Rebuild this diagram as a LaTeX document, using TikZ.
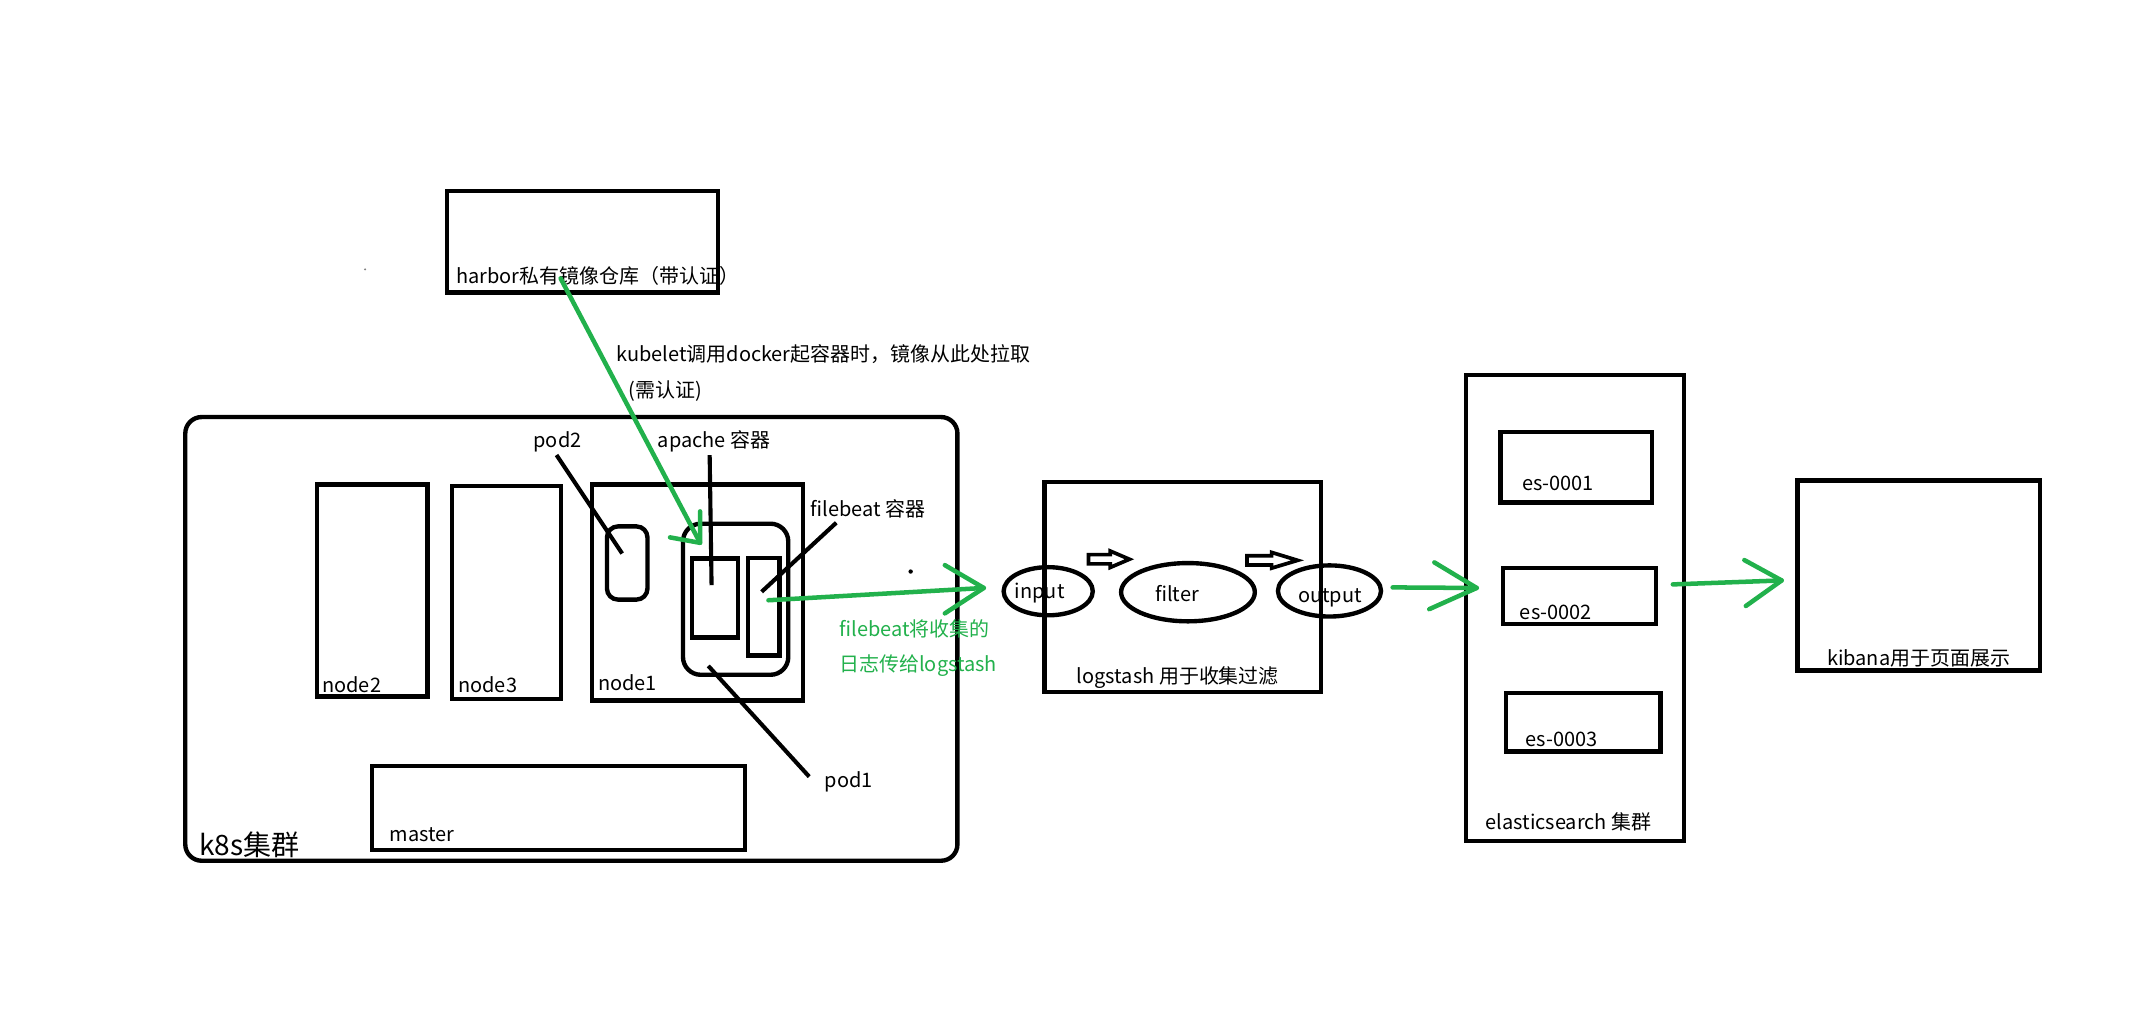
\documentclass[tikz,border=0pt]{standalone}
\usepackage{fontspec}
\setmainfont{Noto Sans CJK SC}
\usetikzlibrary{shapes.geometric,fit}
\definecolor{pgreen}{RGB}{34,177,76}
\begin{document}
\begin{tikzpicture}[x=1pt,y=-1pt,
  box/.style={draw, line width=3.2pt, inner sep=0pt, outer sep=0pt, rectangle},
  oval/.style={draw, line width=3.2pt, ellipse, inner sep=0pt, outer sep=0pt},
  lbl/.style={inner sep=0pt, anchor=base west, font=\fontsize{14.6}{17}\selectfont},
  biglbl/.style={inner sep=0pt, anchor=base west, font=\fontsize{20.5}{24}\selectfont},
  glbl/.style={lbl, text=pgreen},
  lead/.style={line width=3pt},
  garrow/.style={draw=pgreen, line width=3.3pt, line cap=round, line join=round},
  hollow/.style={draw, line width=2.7pt, line join=miter}
]
\fill[white] (0,0) rectangle (1568,740.1);
\useasboundingbox (0,0) rectangle (1568,740.1);

% harbor
\node[box, fit={(326.8,139.7)(525.3,213.8)}] (harbor) {};
\node[lbl] (harborT) at (333.5,207.2) {harbor私有镜像仓库（带认证）};
\fill[gray] (267,197) circle (0.8);

% kubelet text
\node[lbl] (kubeT) at (450.6,264.5) {kubelet调用docker起容器时，镜像从此处拉取};
\node[lbl] (kubeT2) at (459.4,290.6) {(需认证)};

% k8s cluster
\node[box, rounded corners=12pt, fit={(135.5,305)(700.2,629.5)}] (k8s) {};
\node[biglbl] (k8sT) at (145.4,625.5) {k8s集群};

\node[box, fit={(232,354.3)(312.7,509.3)}] (node2) {};
\node[box, fit={(330.5,355.5)(410.5,511)}] (node3) {};
\node[box, fit={(433,354.3)(587.4,512.3)}] (node1) {};
\node[lbl] (node2T) at (235.5,506.7) {node2};
\node[lbl] (node3T) at (335,506.5) {node3};
\node[lbl] (node1T) at (437.3,505) {node1};

\node[box, rounded corners=8pt, fit={(443.9,385)(473.5,438.5)}] (pod2) {};
\node[box, rounded corners=13pt, fit={(499.5,383)(576.5,493.5)}] (pod1) {};
\node[box, fit={(506,408.5)(539.5,466.2)}] (apache) {};
\node[box, fit={(547,408)(570.2,479.5)}] (filebeat) {};

\node[box, fit={(272,560)(545,621.5)}] (master) {};
\node[lbl] (masterT) at (284.8,615.7) {master};

% leader labels
\node[lbl] (pod2T) at (390,327) {pod2};
\node[lbl] (apacheT) at (481,327) {apache 容器};
\node[lbl] (filebeatT) at (592.6,378) {filebeat 容器};
\node[lbl] (pod1T) at (603,576) {pod1};

\coordinate (l1a) at (407,332.8); \coordinate (l1b) at (455,404.8);
\coordinate (l2a) at (519,332.8); \coordinate (l2b) at (520.4,428);
\coordinate (l3a) at (611.6,382.3); \coordinate (l3b) at (557,432.8);
\coordinate (l4a) at (518,487); \coordinate (l4b) at (591.8,568);
\draw[lead] (l1a) -- (l1b);
\draw[lead] (l2a) -- (l2b);
\draw[lead] (l3a) -- (l3b);
\draw[lead] (l4a) -- (l4b);

\fill (666,418) circle (1.6);

% green text
\node[glbl] (g1T) at (613.7,465.7) {filebeat将收集的};
\node[glbl] (g2T) at (613.7,491) {日志传给logstash};

% logstash
\node[box, fit={(763.8,352.5)(966.3,506)}] (logstash) {};
\node[lbl] (logstashT) at (787.4,499.8) {logstash 用于收集过滤};
\node[oval, minimum width=65.2pt, minimum height=35.2pt] (input) at (766.6,432.4) {};
\node[oval, minimum width=97.8pt, minimum height=42.6pt] (filter) at (868.8,433.1) {};
\node[oval, minimum width=75.4pt, minimum height=37.4pt] (output) at (972.3,432.2) {};
\node[lbl] (inputT) at (742,437.6) {input};
\node[lbl] (filterT) at (844.6,440) {filter};
\node[lbl] (outputT) at (949.2,440.6) {output};

\draw[hollow] (796,405.6) -- (812,405.6) -- (812,403) -- (826,409) -- (812,415) -- (812,412.4) -- (796,412.4) -- cycle;
\draw[hollow] (912,406.4) -- (930,406.4) -- (930,404) -- (949,409.8) -- (930,415.5) -- (930,413.2) -- (912,413.2) -- cycle;

% elasticsearch
\node[box, fit={(1072.3,274.1)(1231.5,614.9)}] (es) {};
\node[box, fit={(1097.4,316)(1208,367.4)}] (es1) {};
\node[box, fit={(1099,415.2)(1211.3,456.4)}] (es2) {};
\node[box, fit={(1101.6,506.9)(1214.5,549.5)}] (es3) {};
\node[lbl] (es1T) at (1113,358.4) {es-0001};
\node[lbl] (es2T) at (1111.4,453) {es-0002};
\node[lbl] (es3T) at (1115.6,546.1) {es-0003};
\node[lbl] (esT) at (1086.3,607) {elasticsearch 集群};

% kibana
\node[box, fit={(1314.6,351.4)(1492,490.5)}] (kibana) {};
\node[lbl] (kibanaT) at (1336.1,486.4) {kibana用于页面展示};

% green arrows
\coordinate (g1s) at (410,203.6); \coordinate (g1e) at (512,397);
\draw[garrow] (g1s) -- (g1e);
\draw[garrow] ([shift={(-22,-4)}]g1e) -- (g1e) -- ++(0,-23);

\coordinate (g2s) at (562,439); \coordinate (g2e) at (719.5,430);
\draw[garrow] (g2s) -- (g2e);
\draw[garrow] ([shift={(-28.5,-16.7)}]g2e) -- (g2e) -- ++(-28.5,18.6);

\coordinate (g3s) at (1018.5,429.6); \coordinate (g3e) at (1080,430);
\draw[garrow] (g3s) -- (g3e);
\draw[garrow] ([shift={(-31,-18.7)}]g3e) -- (g3e) -- ++(-34.7,15.5);

\coordinate (g4s) at (1223.4,427.4); \coordinate (g4e) at (1303,424.5);
\draw[garrow] (g4s) -- (g4e);
\draw[garrow] ([shift={(-27.3,-14.9)}]g4e) -- (g4e) -- ++(-26.2,18.7);
\end{tikzpicture}
\end{document}
